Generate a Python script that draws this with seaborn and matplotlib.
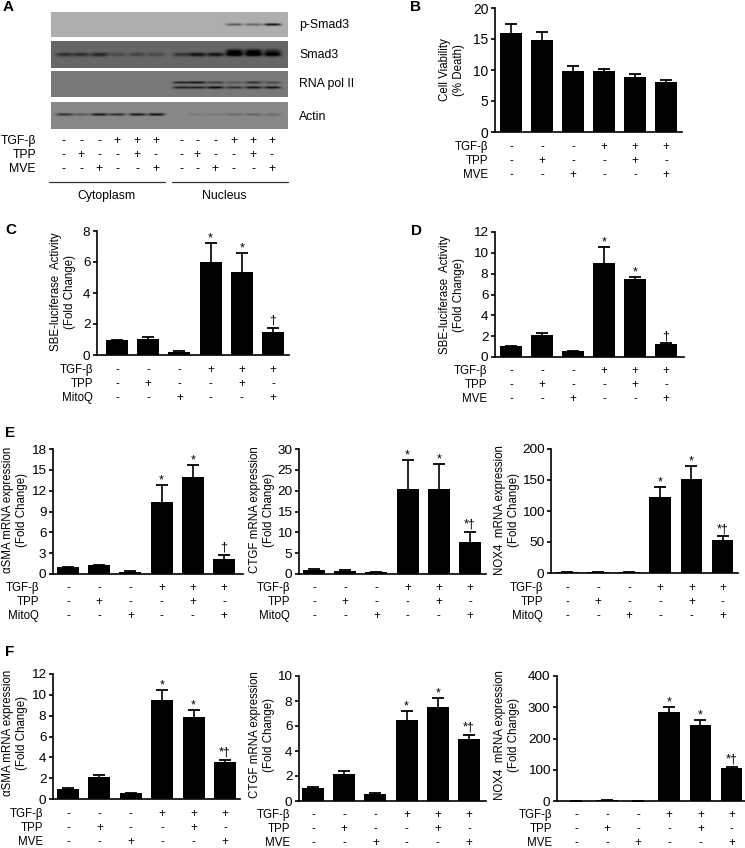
import numpy as np
import seaborn as sns
from matplotlib import pyplot as plt

W, H = 745, 848

# panel A: band darkness per lane
lane_names = ['p-Smad3', 'Smad3', 'RNA pol II', 'Actin']
psmad_band = [0, 0, 0, 0, 0, 0, 0, 0, 0, .45, .4, .85]
smad_band = [.55, .55, .65, .3, .35, .3, .5, .85, .85, 1, 1, 1]
smad_upper = [0, 0, 0, 0, 0, 0, 0, 0, 0, .9, .9, .6]
pol_upper = [0, 0, 0, 0, 0, 0, .7, .8, .5, .3, .6, .4]
pol_lower = [0, 0, 0, 0, 0, 0, .7, .7, .9, .6, .8, .8]
actin_band = [.6, .35, .8, .65, .8, .85, 0, .1, .1, .2, .25, .2]

# conditions
tgf = ['-', '-', '-', '+', '+', '+']
tpp = ['-', '+', '-', '-', '+', '-']
mve = ['-', '-', '+', '-', '-', '+']
mitoq = mve

# bar heights and top of the error bars
b_vals = [16, 14.9, 9.8, 9.8, 8.8, 8.0]
b_top = [17.5, 16.1, 10.6, 10.2, 9.3, 8.4]
c_vals = [1.0, 1.05, 0.2, 6.0, 5.35, 1.5]
c_top = [1.0, 1.15, 0.25, 7.2, 6.55, 1.75]
d_vals = [1.05, 2.1, 0.55, 9.05, 7.45, 1.2]
d_top = [1.05, 2.3, 0.6, 10.55, 7.7, 1.3]
e1_vals = [1.0, 1.25, 0.35, 10.4, 13.9, 2.2]
e1_top = [1.05, 1.3, 0.4, 12.8, 15.7, 2.8]
e2_vals = [1.0, 0.8, 0.4, 20.5, 20.3, 7.8]
e2_top = [1.1, 0.9, 0.45, 27.3, 26.5, 10]
e3_vals = [1, 1.5, 1, 123, 152, 53]
e3_top = [1.2, 2, 1.2, 139, 172, 59]
f1_vals = [1.0, 2.1, 0.55, 9.5, 7.85, 3.55]
f1_top = [1.1, 2.3, 0.6, 10.45, 8.55, 3.75]
f2_vals = [1.05, 2.15, 0.6, 6.45, 7.55, 4.95]
f2_top = [1.1, 2.4, 0.62, 7.2, 8.25, 5.25]
f3_vals = [1, 3, 1, 285, 243, 107]
f3_top = [1.2, 3.5, 1.2, 302, 260, 110]

sns.set_theme(style='ticks')
plt.rcParams['font.family'] = ['Liberation Sans', 'DejaVu Sans']
plt.rcParams['axes.linewidth'] = 1.2

fig = plt.figure(figsize=(W / 100, H / 100), dpi=100)


def px_axes(left, top, right, bottom):
    return fig.add_axes([left / W, 1 - bottom / H, (right - left) / W, (bottom - top) / H])


def px_text(x, y, s, **kw):
    kw.setdefault('fontsize', 8.3)
    kw.setdefault('va', 'center')
    kw.setdefault('color', 'black')
    fig.text(x / W, 1 - y / H, s, **kw)


def bar_panel(vals, top, box, c0, sp, yticks, ylabel, lab_xy, third, rows, lab_right, marks, fs=8.3):
    left, ytop, right, ybot = box
    ax = px_axes(left, ytop, right, ybot)
    x = list(range(6))
    sns.barplot(x=x, y=vals, color='black', saturation=1, width=0.7, edgecolor='black', linewidth=0, ax=ax)
    low = np.zeros(6)
    up = np.array(top) - np.array(vals)
    eb = ax.errorbar(x, vals, yerr=[low, up], fmt='none', ecolor='black', elinewidth=1.2, capsize=4.2, capthick=1.3)
    eb[1][0].set_visible(False)  # only the upper caps
    ax.set_xlim((left - c0) / sp, (right - c0) / sp)
    ax.set_ylim(yticks[0], yticks[-1])
    ax.set_yticks(yticks)
    ax.set_xticks([])
    ax.tick_params(axis='y', length=3.2, width=1.2, pad=1.5, labelsize=fs + 1.4, colors='black')
    for s in ['top', 'right']:
        ax.spines[s].set_visible(False)
    for s in ['left', 'bottom']:
        ax.spines[s].set_color('black')
    px_text(lab_xy[0], lab_xy[1], ylabel, rotation=90, ha='center', multialignment='center', linespacing=1.15)
    names = ['TGF-β', 'TPP', third]
    signs = [tgf, tpp, mve]
    for name, row, off in zip(names, signs, rows):
        px_text(lab_right, ybot + off, name, ha='right')
        for i, s in enumerate(row):
            px_text(c0 + i * sp, ybot + off, s, ha='center')
    for i, m in enumerate(marks):
        if m:
            # the asterisk sits high in its box, so pull it down
            off = -1 if m == '*' else 1
            ax.annotate(m, xy=(i, top[i]), xytext=(0, off), textcoords='offset points',
                        ha='center', va='bottom', fontsize=9, color='black')
    return ax


# panel A
lane_x = [64, 81, 99, 117, 137, 156, 181, 197, 215, 234, 253, 272]
strips = [(12, 37, .68, [(psmad_band, 12, 1.3)]),
          (41, 68, .40, [(smad_band, 13, 2.0), (smad_upper, 10, 2.5)]),
          (71, 97, .47, [(pol_upper, 11, 1.2), (pol_lower, 16, 1.3)]),
          (102, 129, .53, [(actin_band, 12, 1.3)])]
label_y = [25, 55, 84, 117]
for (y0, y1, bg, bands), name, ly in zip(strips, lane_names, label_y):
    ax = px_axes(51, y0, 288, y1)
    yy, xx = np.mgrid[0:y1 - y0, 51:288]
    grid = np.full(xx.shape, bg, dtype=float)
    for vals, rel, thick in bands:
        for cx, v in zip(lane_x, vals):
            prof = np.exp(-((yy - rel) / thick) ** 2) * np.exp(-((xx - cx) / 8.5) ** 4)
            grid -= v * bg * prof
    sns.heatmap(np.clip(grid, 0, 1), ax=ax, cmap='gray', vmin=0, vmax=1, cbar=False,
                xticklabels=False, yticklabels=False)
    px_text(299, ly, name, fontsize=8.8)

for name, row, y in zip(['TGF-β', 'TPP', 'MVE'], [tgf, tpp, mve], [141, 155, 169]):
    px_text(36, y, name, ha='right', fontsize=8.8)
    for i, s in enumerate(row + row):
        px_text(lane_x[i], y, s, ha='center', fontsize=8.8)

ax_lines = px_axes(0, 0, W, H)
ax_lines.set_xlim(0, W)
ax_lines.set_ylim(H, 0)
ax_lines.axis('off')
ax_lines.plot([49, 165], [182, 182], color='#333333', lw=0.9)
ax_lines.plot([172, 288], [182, 182], color='#333333', lw=0.9)
px_text(107, 196, 'Cytoplasm', ha='center', fontsize=8.8)
px_text(224, 196, 'Nucleus', ha='center', fontsize=8.8)

# panel B
bar_panel(b_vals, b_top, (495, 8, 682, 132), 511, 31, [0, 5, 10, 15, 20], 'Cell Viability\n(% Death)',
          (452, 70), 'MVE', (15, 29, 43), 488, [''] * 6, fs=8.5)

# panels C, D
star3 = ['', '', '', '*', '*', '†']
bar_panel(c_vals, c_top, (97, 231, 289, 355), 117, 31.2, [0, 2, 4, 6, 8], 'SBE-luciferase  Activity\n(Fold Change)',
          (63, 292), 'MitoQ', (15, 29, 43), 93, star3)
bar_panel(d_vals, d_top, (495, 232, 684, 357), 511, 31, [0, 2, 4, 6, 8, 10, 12], 'SBE-luciferase  Activity\n(Fold Change)',
          (452, 295), 'MVE', (14, 28, 42), 487, star3)

# panels E, F
star_dag = ['', '', '', '*', '*', '*†']
bar_panel(e1_vals, e1_top, (53, 449, 243, 574), 68, 31.2, [0, 3, 6, 9, 12, 15, 18], 'αSMA mRNA expression\n(Fold Change)',
          (15, 510), 'MitoQ', (14, 28, 42), 39, star3)
bar_panel(e2_vals, e2_top, (299, 449, 486, 574), 314, 31.2, [0, 5, 10, 15, 20, 25, 30], 'CTGF mRNA expression\n(Fold Change)',
          (262, 510), 'MitoQ', (14, 28, 42), 290, star_dag)
bar_panel(e3_vals, e3_top, (551, 449, 738, 573), 567, 31.1, [0, 50, 100, 150, 200], 'NOX4  mRNA expression\n(Fold Change)',
          (507, 510), 'MitoQ', (15, 29, 43), 543, star_dag)
bar_panel(f1_vals, f1_top, (53, 674, 240, 799), 68, 31.4, [0, 2, 4, 6, 8, 10, 12], 'αSMA mRNA expression\n(Fold Change)',
          (15, 733), 'MVE', (15, 29, 43), 43, star_dag)
bar_panel(f2_vals, f2_top, (299, 676, 486, 801), 313, 31.2, [0, 2, 4, 6, 8, 10], 'CTGF mRNA expression\n(Fold Change)',
          (262, 735), 'MVE', (14, 28, 42), 290, star_dag)
bar_panel(f3_vals, f3_top, (557, 676, 745, 801), 576, 31.1, [0, 100, 200, 300, 400], 'NOX4  mRNA expression\n(Fold Change)',
          (507, 735), 'MVE', (14, 28, 42), 552, star_dag)

# panel letters
for s, x, y in [('A', 3, 7), ('B', 410, 7), ('C', 5, 230), ('D', 411, 231), ('E', 5, 433), ('F', 5, 652)]:
    px_text(x, y, s, fontsize=11, fontweight='bold')

fig.savefig('out.png', dpi=100)
